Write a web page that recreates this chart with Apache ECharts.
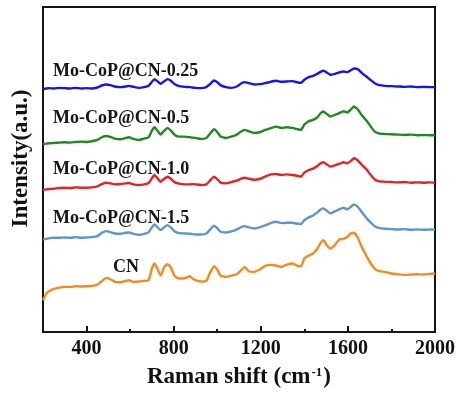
<!DOCTYPE html>
<html>
<head>
<meta charset="utf-8">
<script src="https://cdn.jsdelivr.net/npm/echarts@6/dist/echarts.min.js"></script>
<style>
  html, body { margin: 0; padding: 0; background: #ffffff; }
  #chart { width: 458px; height: 396px; }
</style>
</head>
<body>
<div id="chart"></div>
<script>
// Raman shift sampling points (cm^-1), shared by all spectra
const ramanShift = [
  200, 215, 230, 250, 275, 300, 325, 350, 375, 400,
  425, 450, 470, 490, 510, 530, 555, 580, 595, 615,
  640, 665, 685, 700, 712, 725, 740, 757, 772, 787,
  805, 825, 850, 875, 885, 900, 925, 950, 965, 985,
  1000, 1015, 1040, 1065, 1090, 1110, 1126, 1145, 1170, 1195,
  1220, 1245, 1270, 1295, 1320, 1345, 1370, 1385, 1400, 1420,
  1440, 1460, 1475, 1488, 1503, 1520, 1540, 1560, 1580, 1598,
  1612, 1628, 1645, 1665, 1685, 1705, 1725, 1745, 1770, 1800,
  1830, 1860, 1890, 1920, 1950, 1975, 2000
];

// Offset intensities (a.u.) for each sample, stacked from bottom to top
const moCoP025 = [
  727, 729, 730, 729, 731, 730, 729, 731, 729, 730,
  729, 732, 738, 741, 739, 735, 733, 735, 737, 734,
  731, 733, 737, 749, 757, 751, 743, 751, 757, 752,
  742, 736, 734, 733, 732, 731, 730, 733, 741, 753,
  748, 739, 733, 731, 735, 744, 748, 745, 741, 742,
  745, 749, 752, 749, 750, 751, 747, 746, 755, 763,
  767, 773, 779, 782, 777, 770, 773, 777, 780, 778,
  783, 789, 787, 775, 765, 754, 744, 739, 737, 736,
  735, 734, 735, 733, 734, 733, 733
];
const moCoP05 = [
  562, 564, 565, 566, 567, 568, 567, 569, 570, 569,
  571, 575, 583, 587, 584, 579, 577, 581, 583, 578,
  575, 579, 583, 603, 613, 603, 591, 603, 611, 603,
  590, 585, 585, 583, 582, 581, 578, 581, 592, 607,
  599, 585, 581, 585, 591, 600, 605, 601, 596, 598,
  605, 610, 615, 611, 613, 611, 607, 605, 621, 631,
  635, 643, 655, 660, 653, 645, 650, 655, 661, 657,
  665, 675, 667, 648, 633, 615, 599, 594, 593, 592,
  591, 590, 591, 589, 590, 589, 589
];
const moCoP10 = [
  425, 427, 428, 429, 431, 432, 431, 433, 432, 432,
  433, 436, 443, 447, 445, 442, 443, 445, 446, 442,
  440, 442, 446, 460, 470, 461, 450, 459, 465, 459,
  448, 444, 442, 442, 443, 442, 440, 442, 452, 465,
  458, 447, 445, 449, 453, 459, 462, 459, 456, 458,
  465, 472, 473, 470, 472, 470, 467, 465, 477, 485,
  489, 497, 505, 508, 502, 495, 499, 503, 508, 505,
  511, 520, 514, 500, 487, 470, 456, 451, 450, 449,
  448, 449, 447, 448, 447, 448, 447
];
const moCoP15 = [
  277, 279, 281, 282, 282, 283, 282, 284, 282, 283,
  284, 287, 297, 302, 299, 295, 294, 297, 298, 294,
  291, 294, 299, 313, 322, 314, 305, 314, 320, 313,
  301, 296, 295, 294, 293, 292, 292, 295, 305, 318,
  311, 300, 298, 301, 307, 314, 317, 313, 310, 313,
  319, 326, 330, 326, 327, 327, 324, 323, 335, 343,
  349, 358, 367, 370, 363, 355, 361, 367, 372, 367,
  374, 382, 375, 358, 341, 328, 316, 311, 309, 308,
  307, 308, 306, 307, 306, 307, 307
];
const cn = [
  95, 115, 123, 129, 133, 135, 135, 137, 136, 137,
  138, 142, 152, 162, 158, 150, 149, 153, 155, 150,
  151, 153, 155, 190, 205, 190, 169, 195, 203, 193,
  167, 160, 161, 167, 161, 155, 151, 153, 175, 197,
  187, 169, 165, 169, 173, 185, 195, 182, 180, 187,
  198, 201, 199, 195, 202, 205, 198, 196, 220, 229,
  235, 250, 267, 275, 260, 250, 260, 277, 279, 285,
  295, 297, 283, 253, 228, 205, 188, 182, 180, 175,
  173, 171, 172, 173, 172, 174, 175
];

const sampleNames = ['Mo-CoP@CN-0.25', 'Mo-CoP@CN-0.5', 'Mo-CoP@CN-1.0', 'Mo-CoP@CN-1.5', 'CN'];
const sampleValues = [moCoP025, moCoP05, moCoP10, moCoP15, cn];
const sampleColors = ['#1414ee', '#1f8a1f', '#e3241f', '#5e95cf', '#f78a1c'];

// Tick positions on the Raman shift axis
const majorTicks = [400, 800, 1200, 1600, 2000];
const minorTicks = [600, 1000, 1400, 1800];

const serif = '"Times New Roman", "Liberation Serif", serif';

// Curve captions: [left x, vertical centre] in pixels
const captionPlaces = [[53, 71], [53, 118], [53, 169], [53, 218], [113, 267]];

const chart = echarts.init(document.getElementById('chart'), null, { renderer: 'canvas' });

const series = sampleNames.map((name, i) => ({
  name: name,
  type: 'line',
  xAxisIndex: 0,
  yAxisIndex: 0,
  data: ramanShift.map((x, k) => [x, sampleValues[i][k]]),
  showSymbol: false,
  smooth: 0.15,
  lineStyle: { color: sampleColors[i], width: 2.4 },
  itemStyle: { color: sampleColors[i] },
  z: 5 - i
}));

chart.setOption({
  animation: false,
  backgroundColor: '#ffffff',
  grid: {
    left: 43, right: 22, top: 7, bottom: 64,
    show: true, borderColor: '#151515', borderWidth: 2,
    backgroundColor: 'transparent'
  },
  xAxis: [
    {
      type: 'value', min: 200, max: 2000, interval: 200,
      name: '{a|Raman shift (cm}{s|-1}{a|)}',
      nameLocation: 'middle', nameGap: 34,
      nameTextStyle: {
        rich: {
          a: { fontFamily: serif, fontWeight: 'bold', fontSize: 23, color: '#111' },
          s: { fontFamily: serif, fontWeight: 'bold', fontSize: 13, color: '#111', verticalAlign: 'top', padding: [0, 1, 10, 1] }
        }
      },
      axisLine: { show: true, lineStyle: { color: '#151515', width: 2 } },
      axisTick: { show: true, inside: true, length: 6, customValues: majorTicks, lineStyle: { color: '#151515', width: 2 } },
      axisLabel: {
        show: true, customValues: majorTicks, margin: 7,
        formatter: (v) => String(v),
        fontFamily: serif, fontWeight: 'bold', fontSize: 20, color: '#111'
      },
      splitLine: { show: false }
    },
    {
      type: 'value', min: 200, max: 2000, interval: 200, position: 'bottom',
      axisLine: { show: false },
      axisTick: { show: true, inside: true, length: 3, customValues: minorTicks, lineStyle: { color: '#151515', width: 2 } },
      axisLabel: { show: false },
      splitLine: { show: false }
    }
  ],
  yAxis: {
    type: 'value', min: 0, max: 973,
    name: 'Intensity(a.u.)',
    nameLocation: 'middle', nameGap: 10, nameRotate: 90,
    nameTextStyle: { fontFamily: serif, fontWeight: 'bold', fontSize: 23, color: '#111', padding: [0, 0, 0, 22] },
    axisLine: { show: true, lineStyle: { color: '#151515', width: 2 } },
    axisTick: { show: false },
    axisLabel: { show: false },
    splitLine: { show: false }
  },
  graphic: sampleNames.map((name, i) => ({
    type: 'text',
    x: captionPlaces[i][0],
    y: captionPlaces[i][1],
    z: 100,
    style: {
      text: name,
      font: 'bold 18px ' + serif,
      fill: '#151515',
      verticalAlign: 'middle'
    }
  })),
  series: series
});
</script>
</body>
</html>
